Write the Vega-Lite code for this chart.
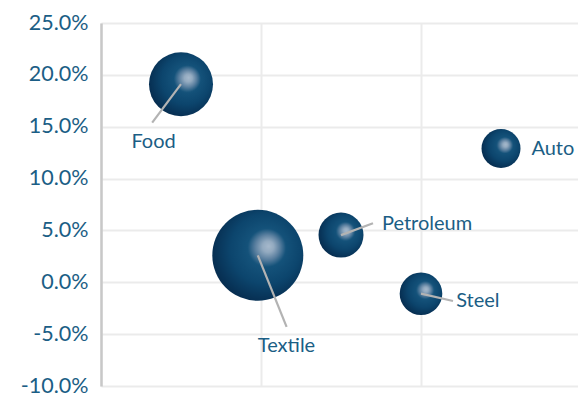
{
  "$schema": "https://vega.github.io/schema/vega-lite/v6.json",
  "width": 480,
  "height": 363,
  "autosize": "none",
  "padding": {"left": 101, "top": 23, "right": 0, "bottom": 13},
  "background": "white",
  "config": {"view": {"stroke": null}, "font": "Lato"},
  "data": {"values": [
    {"industry": "Food", "x": 0.5, "growth": 0.191, "weight": 1024, "lx": 0.32, "ly": 0.154, "tx": 0.19, "ty": 0.135},
    {"industry": "Textile", "x": 0.98, "growth": 0.026, "weight": 2070, "lx": 1.16, "ly": -0.043, "tx": 0.98, "ty": -0.061},
    {"industry": "Petroleum", "x": 1.5, "growth": 0.0455, "weight": 506, "lx": 1.70, "ly": 0.057, "tx": 1.756, "ty": 0.056},
    {"industry": "Steel", "x": 2.0, "growth": -0.011, "weight": 454, "lx": 2.2, "ly": -0.018, "tx": 2.22, "ty": -0.018},
    {"industry": "Auto", "x": 2.5, "growth": 0.129, "weight": 380, "lx": null, "ly": null, "tx": 2.69, "ty": 0.1285}
  ]},
  "encoding": {
    "x": {"field": "x", "type": "quantitative", "scale": {"domain": [0, 3], "nice": false, "zero": false},
      "axis": {"values": [0, 1, 2, 3], "labels": false, "ticks": false, "domain": false, "title": null, "grid": true, "gridColor": "#ebebeb", "gridWidth": 2}},
    "y": {"field": "growth", "type": "quantitative", "scale": {"domain": [-0.1, 0.25], "nice": false},
      "axis": {"values": [-0.1, -0.05, 0, 0.05, 0.1, 0.15, 0.2, 0.25], "labelExpr": "replace(format(datum.value, '.1%'), '\u2212', '-')", "title": null, "ticks": false,
        "domain": true, "domainColor": "#c8c8c8", "domainWidth": 2.5, "grid": true, "gridColor": "#ebebeb", "gridWidth": 2,
        "labelFont": "Lato", "labelFontSize": 21.5, "labelColor": "#1b5e85", "labelPadding": 13}}
  },
  "layer": [
    {
      "mark": {"type": "circle", "opacity": 1, "strokeWidth": 0,
        "fill": {"gradient": "radial", "x1": 0.62, "y1": 0.4, "r1": 0, "x2": 0.56, "y2": 0.45, "r2": 0.62,
          "stops": [
            {"offset": 0, "color": "#a6b9cc"},
            {"offset": 0.1, "color": "#93aac0"},
            {"offset": 0.22, "color": "#5a7f9f"},
            {"offset": 0.34, "color": "#14527a"},
            {"offset": 0.62, "color": "#0c456d"},
            {"offset": 1, "color": "#05284a"}
          ]}},
      "encoding": {
        "size": {"field": "weight", "type": "quantitative", "scale": {"domain": [0, 2070], "range": [0, 8280]}, "legend": null}
      }
    },
    {
      "transform": [{"filter": "datum.lx != null"}],
      "mark": {"type": "rule", "color": "#b3b3b3", "strokeWidth": 2.2},
      "encoding": {
        "x2": {"field": "lx"},
        "y2": {"field": "ly"}
      }
    },
    {
      "mark": {"type": "text", "align": "left", "baseline": "middle", "font": "Lato", "fontSize": 20, "color": "#1b5e85"},
      "encoding": {
        "x": {"field": "tx", "type": "quantitative"},
        "y": {"field": "ty", "type": "quantitative"},
        "text": {"field": "industry"}
      }
    }
  ]
}
